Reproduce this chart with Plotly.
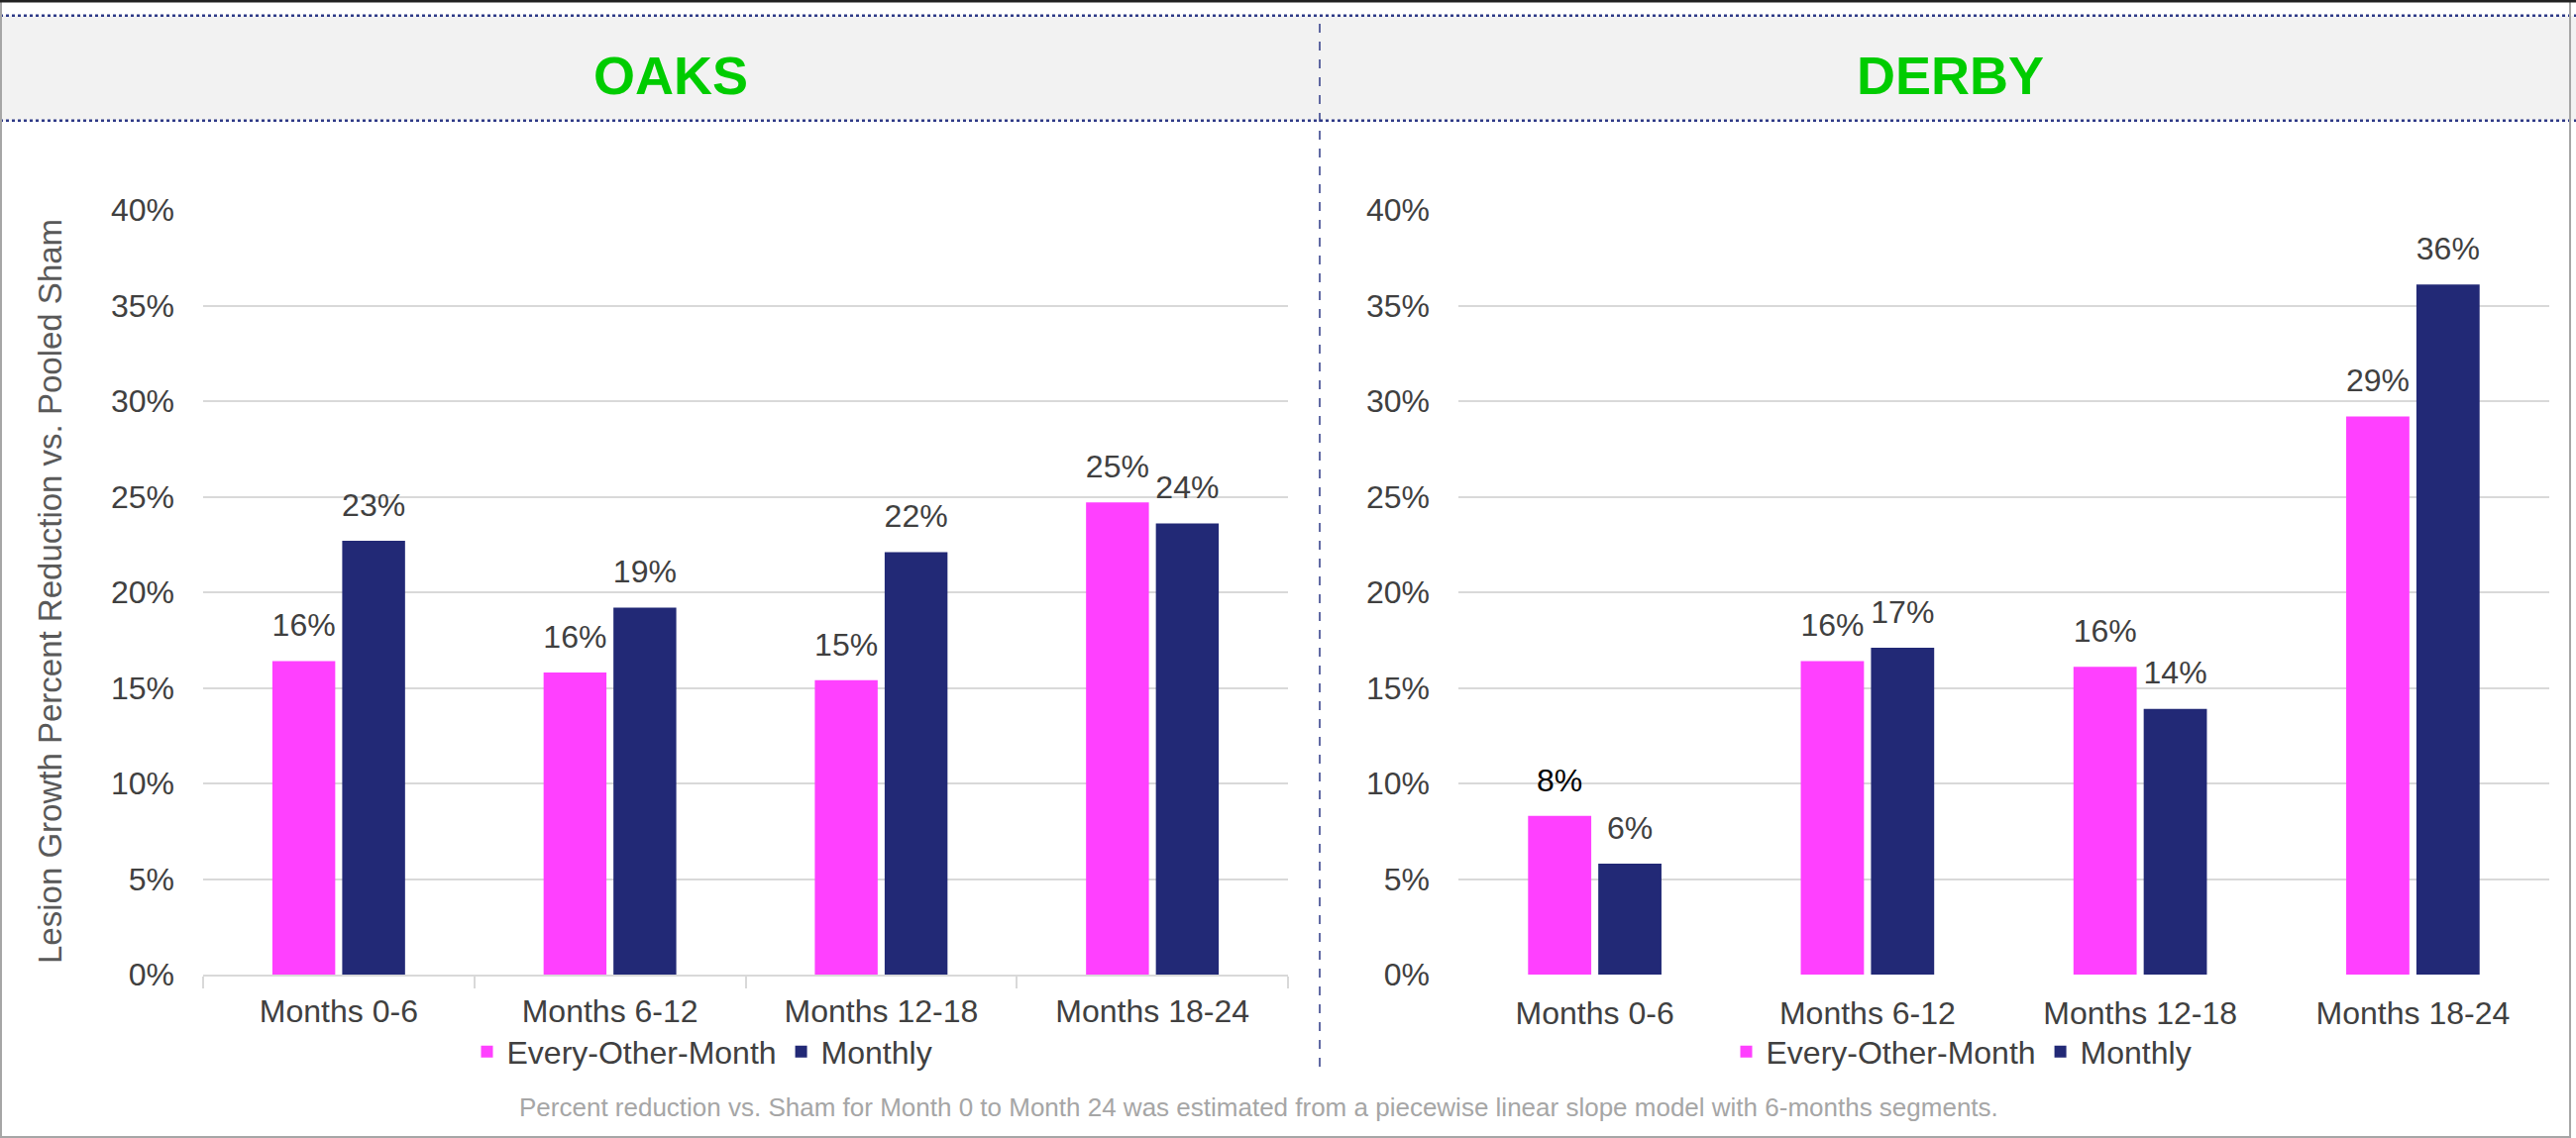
import plotly.graph_objects as go

categories = ["Months 0-6", "Months 6-12", "Months 12-18", "Months 18-24"]
oaks_eom = [0.164, 0.158, 0.154, 0.247]
oaks_monthly = [0.227, 0.192, 0.221, 0.236]
derby_eom = [0.083, 0.164, 0.161, 0.292]
derby_monthly = [0.058, 0.171, 0.139, 0.361]
series_names = ["Every-Other-Month", "Monthly"]
panel_titles = ["OAKS", "DERBY"]
y_ticks = [0, 0.05, 0.10, 0.15, 0.20, 0.25, 0.30, 0.35, 0.40]
y_title = "Lesion Growth Percent Reduction vs. Pooled Sham"
footnote = ("Percent reduction vs. Sham for Month 0 to Month 24 was estimated from a "
            "piecewise linear slope model with 6-months segments.")

PINK = "#FF40FF"
NAVY = "#222976"
TXT = "#404040"
FONT = "Arial, Liberation Sans, sans-serif"
W, H = 2600, 1149
BARGAP = 0.485

fig = go.Figure()

def add_bar(x, y, name, color, xa, ya, legend, tcolors, grp):
    fig.add_trace(go.Bar(
        x=x, y=y, name=name, marker=dict(color=color, line=dict(width=0)),
        xaxis=xa, yaxis=ya, legend=legend, offsetgroup=grp,
        hoverinfo="x+y+name",
    ))
    # value labels, grouped like the bars
    fig.add_trace(go.Scatter(
        x=x, y=y, mode="markers+text", xaxis=xa, yaxis=ya, showlegend=False,
        offsetgroup=grp, marker=dict(size=26, opacity=0, color=color),
        text=y, texttemplate="%{y:.0%}", textposition="top center",
        textfont=dict(size=32, color=tcolors, family=FONT),
        cliponaxis=False, hoverinfo="skip",
    ))

add_bar(categories, oaks_eom, series_names[0], PINK, "x", "y", "legend", TXT, "a")
add_bar(categories, oaks_monthly, series_names[1], NAVY, "x", "y", "legend", TXT, "b")
add_bar(categories, derby_eom, series_names[0], PINK, "x2", "y2", "legend2",
        ["#000000", TXT, TXT, TXT], "a")
add_bar(categories, derby_monthly, series_names[1], NAVY, "x2", "y2", "legend2", TXT, "b")

ydom = [1 - 984 / H, 1 - 212 / H]
yax = dict(range=[0, 0.4], tickvals=y_ticks, tickformat=".0%", showgrid=True,
           gridcolor="#D9D9D9", gridwidth=2, zeroline=False, showline=False,
           ticks="", tickfont=dict(size=32, color=TXT, family=FONT),
           domain=ydom, automargin=False, ticklabelstandoff=28)

fig.update_layout(
    width=W, height=H,
    margin=dict(l=0, r=0, t=0, b=0),
    paper_bgcolor="white", plot_bgcolor="white",
    font=dict(family=FONT, color=TXT),
    barmode="group", bargap=BARGAP, bargroupgap=0.1,
    scattermode="group", scattergap=BARGAP,
    xaxis=dict(domain=[205 / W, 1300 / W], anchor="y", showline=True,
               linecolor="#D9D9D9", linewidth=2, ticks="outside",
               tickson="boundaries", ticklen=12, tickcolor="#D9D9D9", tickwidth=2,
               tickfont=dict(size=32, color=TXT, family=FONT), automargin=False,
               showgrid=False, ticklabelstandoff=8),
    xaxis2=dict(domain=[1472 / W, 2573 / W], anchor="y2", showline=False,
                ticks="", tickfont=dict(size=32, color=TXT, family=FONT),
                automargin=False, showgrid=False, ticklabelstandoff=17),
    yaxis=dict(anchor="x", **yax),
    yaxis2=dict(anchor="x2", **yax),
    legend=dict(orientation="h", x=709 / W, xanchor="center", y=1 - 1062 / H,
                yanchor="middle", font=dict(size=32, color=TXT, family=FONT),
                bgcolor="rgba(0,0,0,0)", itemwidth=30, traceorder="normal"),
    legend2=dict(orientation="h", x=1980 / W, xanchor="center", y=1 - 1062 / H,
                 yanchor="middle", font=dict(size=32, color=TXT, family=FONT),
                 bgcolor="rgba(0,0,0,0)", itemwidth=30, traceorder="normal"),
)

top_y = 1 - 15.7 / H
bot_y = 1 - 121.7 / H
div_x = 1332 / W
dash_col = "#2E3A87"
shapes = [
    dict(type="rect", xref="paper", yref="paper", x0=0, x1=1, y0=bot_y, y1=top_y,
         fillcolor="#F2F2F2", line=dict(width=0), layer="below"),
    dict(type="line", xref="paper", yref="paper", x0=0, x1=1, y0=top_y, y1=top_y,
         line=dict(color=dash_col, width=2.5, dash="dot")),
    dict(type="line", xref="paper", yref="paper", x0=0, x1=1, y0=bot_y, y1=bot_y,
         line=dict(color=dash_col, width=2.5, dash="dot")),
    dict(type="line", xref="paper", yref="paper", x0=div_x, x1=div_x,
         y0=1 - 1077 / H, y1=top_y, line=dict(color=dash_col, width=1.5, dash="dash")),
    dict(type="rect", xref="paper", yref="paper", x0=1 / W, x1=2594 / W,
         y0=1 / H, y1=1 - 1 / H, line=dict(color="#A6A6A6", width=2)),
    dict(type="line", xref="paper", yref="paper", x0=0, x1=1, y0=1 - 1 / H, y1=1 - 1 / H,
         line=dict(color="#222222", width=3)),
]
fig.update_layout(shapes=shapes)

ann = [
    dict(text="<b>%s</b>" % panel_titles[0], x=677 / W, y=1 - 76 / H, xref="paper",
         yref="paper", showarrow=False, font=dict(size=54, color="#00CC00", family=FONT),
         xanchor="center", yanchor="middle"),
    dict(text="<b>%s</b>" % panel_titles[1], x=1968 / W, y=1 - 76 / H, xref="paper",
         yref="paper", showarrow=False, font=dict(size=54, color="#00CC00", family=FONT),
         xanchor="center", yanchor="middle"),
    dict(text=y_title, x=50 / W, y=1 - 597 / H, xref="paper", yref="paper",
         showarrow=False, textangle=-90, font=dict(size=33, color="#595959", family=FONT),
         xanchor="center", yanchor="middle"),
    dict(text=footnote, x=1270 / W, y=1 - 1118 / H, xref="paper", yref="paper",
         showarrow=False, font=dict(size=26, color="#A6A6A6", family=FONT),
         xanchor="center", yanchor="middle"),
]
fig.update_layout(annotations=ann)

fig.write_html("out.html", config={"displayModeBar": False},
               post_script="document.body.style.margin='0';")
